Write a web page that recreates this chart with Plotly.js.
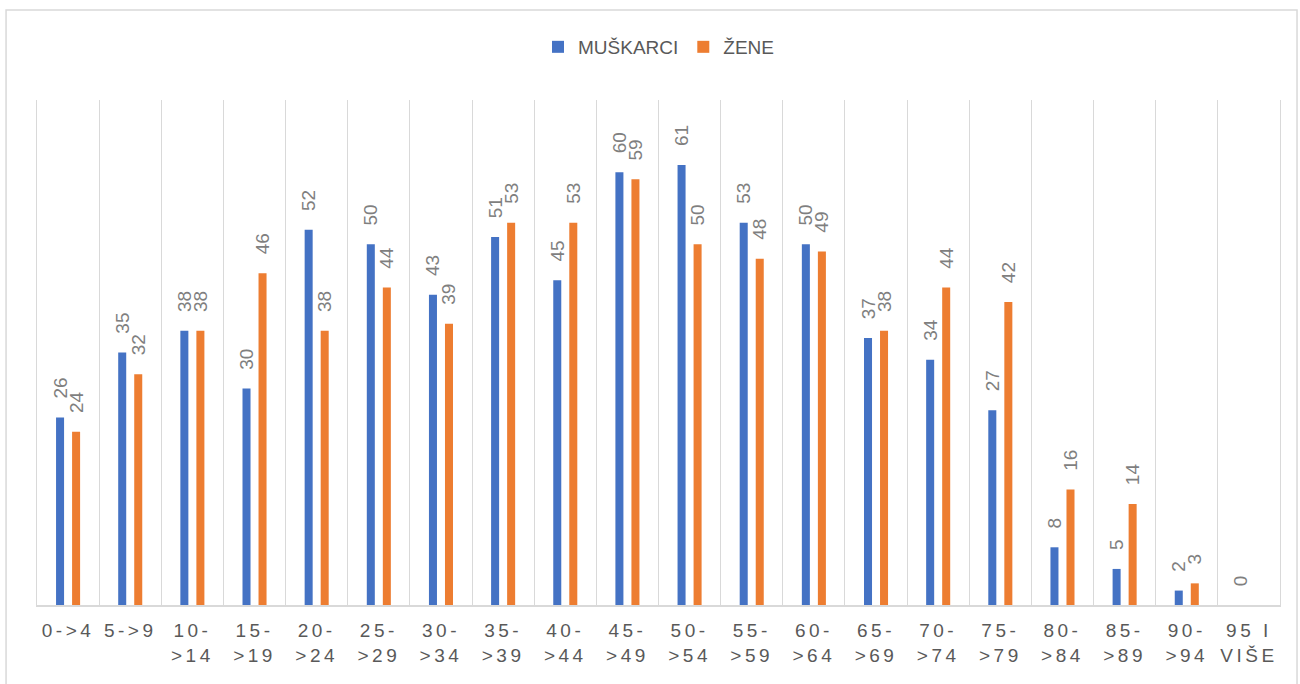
<!DOCTYPE html>
<html>
<head>
<meta charset="utf-8">
<script src="https://cdn.plot.ly/plotly-3.0.1.min.js"></script>
<style>
html,body{margin:0;padding:0;background:#fff;}
#chart{width:1300px;height:684px;}
.xtick text{letter-spacing:3.5px;}
</style>
</head>
<body>
<div id="chart"></div>
<script>
const categories = ["0->4","5->9","10-<br>>14","15-<br>>19","20-<br>>24","25-<br>>29","30-<br>>34","35-<br>>39","40-<br>>44","45-<br>>49","50-<br>>54","55-<br>>59","60-<br>>64","65-<br>>69","70-<br>>74","75-<br>>79","80-<br>>84","85-<br>>89","90-<br>>94","95 I<br>VIŠE"];
const muskarci = [26,35,38,30,52,50,43,51,45,60,61,53,50,37,34,27,8,5,2,0];
const zene = [24,32,38,46,38,44,39,53,53,59,50,48,49,38,44,42,16,14,3,null];
const seriesNames = ["MUŠKARCI","ŽENE"];
const colors = ["#4472C4","#ED7D31"];

const FONT = "Liberation Sans, Arial, sans-serif";
const pad = "\u00A0\u00A0\u00A0";

function mk(name, vals, color){
  return {
    type:"bar", name:name, x:categories, y:vals,
    marker:{color:color},
    text: vals.map(v => v===null ? "" : pad + v),
    textposition:"outside", textangle:-90,
    constraintext:"none", cliponaxis:false,
    textfont:{family:FONT, size:19, color:"#7F7F7F"},
    hoverinfo:"x+y"
  };
}
const data = [mk(seriesNames[0], muskarci, colors[0]), mk(seriesNames[1], zene, colors[1])];

const layout = {
  width:1300, height:684,
  margin:{l:37, r:20, t:100, b:79},
  paper_bgcolor:"#fff", plot_bgcolor:"#fff",
  barmode:"group", bargap:0.484, bargroupgap:0.5,
  font:{family:FONT, color:"#595959"},
  showlegend:true,
  legend:{orientation:"h", x:0.5, xanchor:"center", y:1.105, yanchor:"middle",
          font:{family:FONT, size:19, color:"#595959"}, traceorder:"normal", itemwidth:30},
  xaxis:{type:"category", tickson:"boundaries", showgrid:true, gridcolor:"#D9D9D9", gridwidth:1,
         ticks:"", showline:true, linecolor:"#D9D9D9", linewidth:1.5, ticklabelstandoff:8,
         tickfont:{family:FONT, size:19, color:"#595959"}, tickangle:0, fixedrange:true},
  yaxis:{range:[0,70], showgrid:false, zeroline:false, showticklabels:false, ticks:"",
         showline:true, mirror:true, linecolor:"#D9D9D9", linewidth:1},
  shapes:[{type:"rect", xref:"paper", yref:"paper", x0:-0.0249, x1:1.0137, y0:-0.2, y1:1.178,
           line:{color:"#D9D9D9", width:1.5}, fillcolor:"rgba(0,0,0,0)", layer:"below"}]
};
Plotly.newPlot("chart", data, layout, {displayModeBar:false, staticPlot:true});
</script>
</body>
</html>
